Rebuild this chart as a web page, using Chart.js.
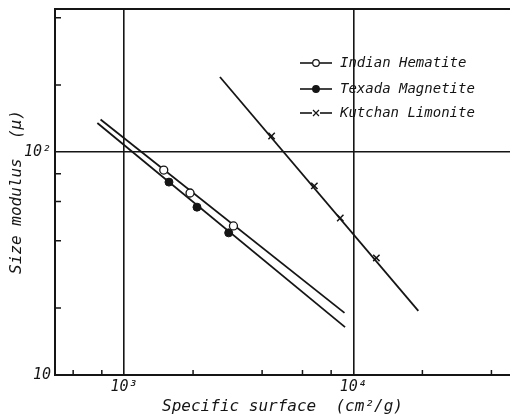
<!DOCTYPE html>
<html>
<head>
<meta charset="utf-8">
<script src="https://cdn.jsdelivr.net/npm/chart.js@4/dist/chart.umd.min.js"></script>
<style>
  html, body { margin: 0; padding: 0; background: #fff; overflow: hidden; }
  canvas { display: block; }
</style>
</head>
<body>
<canvas id="chart" width="510" height="419"></canvas>
<script>
// ticks (log paper: only 10^n are labelled)
const xTicks = [600, 800, 1000, 2000, 4000, 6000, 8000, 10000, 20000, 40000];
const yTicks = [10, 20, 40, 60, 80, 100, 200, 400];
const xLabelValues = [1000, 10000];
const xLabelTexts = ['10³', '10⁴'];
const yLabelValues = [10, 100];
const yLabelTexts = ['10', '10²'];

// measured points
const hematiteX = [1490, 1940, 3000];
const hematiteY = [83, 65.5, 46.6];
const magnetiteX = [1570, 2080, 2860];
const magnetiteY = [73.3, 56.6, 43.4];
const limoniteX = [4400, 6760, 8770, 12600];
const limoniteY = [118, 70.5, 50.6, 33.5];

// fitted lines (end points)
const hematiteLineX = [790, 9150];
const hematiteLineY = [140, 19];
const magnetiteLineX = [765, 9200];
const magnetiteLineY = [135, 16.4];
const limoniteLineX = [2620, 19200];
const limoniteLineY = [217, 19.4];

const seriesNames = ['Indian Hematite', 'Texada Magnetite', 'Kutchan Limonite'];

const INK = '#151515';
const LABEL_FONT = '"DejaVu Sans Mono", monospace';

function pts(xs, ys) {
    return xs.map((x, i) => ({ x: x, y: ys[i] }));
}

function isPow10(v) {
    const l = Math.log10(v);
    return Math.abs(l - Math.round(l)) < 1e-6;
}

function noPadding(scale) {
    scale.paddingLeft = 0;
    scale.paddingRight = 0;
    scale.paddingTop = 0;
    scale.paddingBottom = 0;
}

const lineStyle = {
    type: 'line',
    showLine: true,
    borderColor: INK,
    borderWidth: 1.8,
    pointRadius: 0,
    fill: false,
    order: 2
};

const datasets = [
    {
        label: seriesNames[0],
        data: pts(hematiteX, hematiteY),
        showLine: false,
        pointStyle: 'circle',
        pointRadius: 4,
        pointBackgroundColor: '#fff',
        pointBorderColor: INK,
        pointBorderWidth: 1.3,
        order: 1
    },
    {
        label: seriesNames[1],
        data: pts(magnetiteX, magnetiteY),
        showLine: false,
        pointStyle: 'circle',
        pointRadius: 4,
        pointBackgroundColor: INK,
        pointBorderColor: INK,
        pointBorderWidth: 1,
        order: 1
    },
    {
        label: seriesNames[2],
        data: pts(limoniteX, limoniteY),
        showLine: false,
        pointStyle: 'crossRot',
        pointRadius: 4.5,
        pointBorderColor: INK,
        pointBorderWidth: 1.5,
        order: 1
    },
    Object.assign({ data: pts(hematiteLineX, hematiteLineY) }, lineStyle),
    Object.assign({ data: pts(magnetiteLineX, magnetiteLineY) }, lineStyle),
    Object.assign({ data: pts(limoniteLineX, limoniteLineY) }, lineStyle)
];

// short tick marks pointing into the plot, plus the top frame line
const paperPlugin = {
    id: 'paper',
    afterDatasetsDraw(chart) {
        const ctx = chart.ctx;
        const a = chart.chartArea;
        const xs = chart.scales.x;
        const ys = chart.scales.y;
        ctx.save();
        ctx.strokeStyle = INK;
        ctx.lineWidth = 1.5;
        ctx.beginPath();
        xTicks.forEach(v => {
            if (isPow10(v)) return;
            const px = xs.getPixelForValue(v);
            ctx.moveTo(px, a.bottom);
            ctx.lineTo(px, a.bottom - 5);
        });
        yTicks.forEach(v => {
            if (isPow10(v)) return;
            const py = ys.getPixelForValue(v);
            ctx.moveTo(a.left, py);
            ctx.lineTo(a.left + 6, py);
        });
        ctx.stroke();

        ctx.lineWidth = 2;
        ctx.beginPath();
        ctx.moveTo(a.left - 1, a.top);
        ctx.lineTo(a.right, a.top);
        ctx.stroke();
        ctx.restore();
    }
};

// legend drawn inside the plot, upper right
const legendPlugin = {
    id: 'innerLegend',
    afterDraw(chart) {
        const ctx = chart.ctx;
        const x0 = 300, x1 = 332, tx = 340;
        const rows = [63, 89, 113];
        ctx.save();
        ctx.font = 'oblique 14px ' + LABEL_FONT;
        ctx.fillStyle = INK;
        ctx.textBaseline = 'middle';
        seriesNames.forEach((name, i) => {
            const y = rows[i];
            const ds = chart.data.datasets[i];
            ctx.strokeStyle = INK;
            ctx.lineWidth = 1.6;
            ctx.beginPath();
            ctx.moveTo(x0, y);
            ctx.lineTo(x1, y);
            ctx.stroke();
            const cx = (x0 + x1) / 2;
            if (ds.pointStyle === 'crossRot') {
                ctx.fillStyle = '#fff';
                ctx.fillRect(cx - 4, y - 2, 8, 4);
                ctx.lineWidth = 1.2;
                ctx.beginPath();
                ctx.moveTo(cx - 3, y - 3); ctx.lineTo(cx + 3, y + 3);
                ctx.moveTo(cx + 3, y - 3); ctx.lineTo(cx - 3, y + 3);
                ctx.stroke();
            } else {
                ctx.beginPath();
                ctx.arc(cx, y, 3.3, 0, Math.PI * 2);
                ctx.fillStyle = ds.pointBackgroundColor;
                ctx.fill();
                ctx.lineWidth = 1.2;
                ctx.stroke();
            }
            ctx.fillStyle = INK;
            ctx.fillText(name, tx, y);
        });
        ctx.restore();
    }
};

new Chart(document.getElementById('chart'), {
    type: 'scatter',
    data: { datasets: datasets },
    options: {
        responsive: false,
        devicePixelRatio: 1,
        animation: false,
        layout: {
            autoPadding: false,
            padding: { top: 9, right: 0, left: 0, bottom: 0 }
        },
        plugins: {
            legend: { display: false },
            tooltip: { enabled: false }
        },
        scales: {
            x: {
                type: 'logarithmic',
                position: 'bottom',
                min: 500,
                max: 48200,
                afterBuildTicks: scale => {
                    scale.ticks = xTicks.map(v => ({ value: v }));
                },
                afterFit: scale => {
                    scale.height = 44;
                    noPadding(scale);
                },
                ticks: {
                    autoSkip: false,
                    maxRotation: 0,
                    padding: 3,
                    color: INK,
                    font: { family: LABEL_FONT, style: 'oblique', size: 15 },
                    callback: v => {
                        const k = xLabelValues.indexOf(v);
                        return k >= 0 ? xLabelTexts[k] : '';
                    }
                },
                grid: {
                    drawTicks: false,
                    lineWidth: 1.6,
                    color: c => (c.tick && isPow10(c.tick.value)) ? INK : 'rgba(0,0,0,0)'
                },
                border: { display: true, color: INK, width: 2 },
                title: {
                    display: true,
                    text: 'Specific surface  (cm²/g)',
                    color: INK,
                    font: { family: LABEL_FONT, style: 'oblique', size: 16 },
                    padding: { top: 0, bottom: 3 }
                }
            },
            y: {
                type: 'logarithmic',
                position: 'left',
                min: 10,
                max: 438,
                afterBuildTicks: scale => {
                    scale.ticks = yTicks.map(v => ({ value: v }));
                },
                afterFit: scale => {
                    scale.width = 55;
                    noPadding(scale);
                },
                ticks: {
                    autoSkip: false,
                    padding: 4,
                    color: INK,
                    font: { family: LABEL_FONT, style: 'oblique', size: 15 },
                    callback: v => {
                        const k = yLabelValues.indexOf(v);
                        return k >= 0 ? yLabelTexts[k] : '';
                    }
                },
                grid: {
                    drawTicks: false,
                    lineWidth: 1.6,
                    color: c => (c.tick && isPow10(c.tick.value)) ? INK : 'rgba(0,0,0,0)'
                },
                border: { display: true, color: INK, width: 2 },
                title: {
                    display: true,
                    text: 'Size modulus  (μ)',
                    color: INK,
                    font: { family: LABEL_FONT, style: 'oblique', size: 16 },
                    padding: { top: 7, bottom: 0 }
                }
            }
        }
    },
    plugins: [paperPlugin, legendPlugin]
});
</script>
</body>
</html>
